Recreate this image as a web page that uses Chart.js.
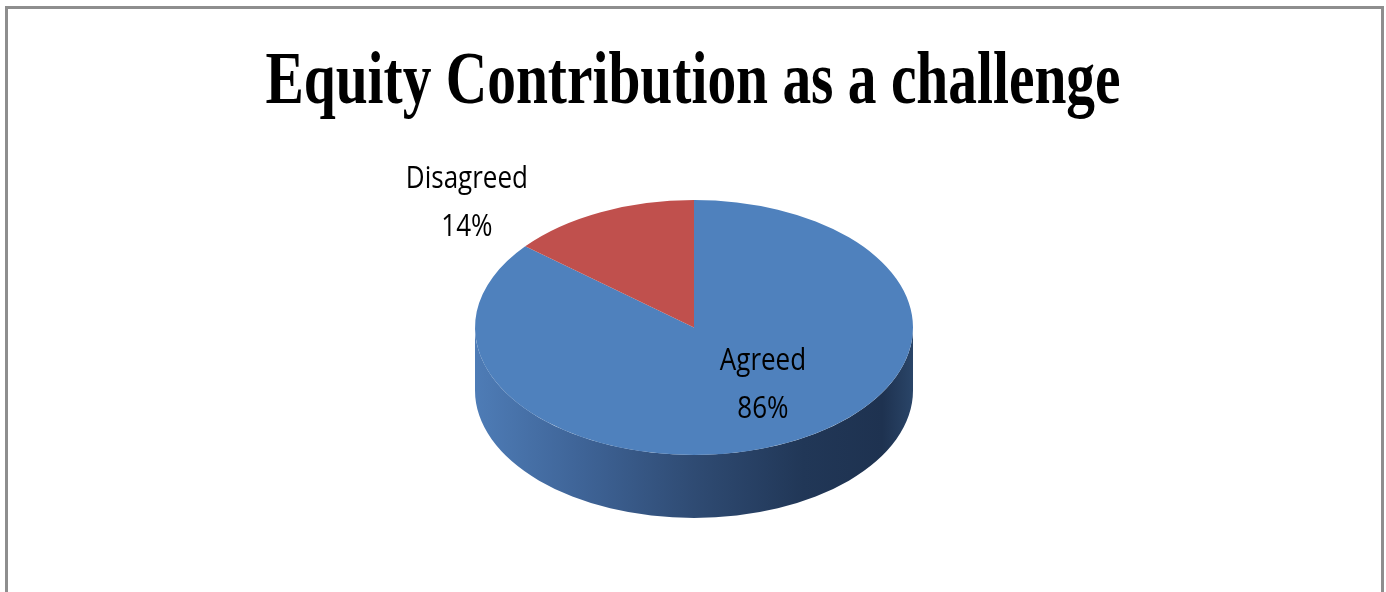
<!DOCTYPE html>
<html>
<head>
<meta charset="utf-8">
<script src="https://cdn.jsdelivr.net/npm/chart.js@4.4.0/dist/chart.umd.min.js"></script>
<style>
  body { margin: 0; background: #fff; overflow: hidden; }
  #wrap { position: relative; width: 1386px; height: 592px; }
  #frame {
    position: absolute; left: 5px; top: 6px; width: 1373px; height: 620px;
    border: 3px solid #8e8e8e; pointer-events: none;
  }
  #title {
    position: absolute; left: 0; top: 41px; width: 1386px; text-align: center;
    font-family: "Liberation Serif", "Times New Roman", serif; font-weight: bold;
    font-size: 74px; line-height: 74px; color: #000;
    transform: scaleX(0.776); transform-origin: 693px 0;
  }
  canvas { position: absolute; left: 0; top: 0; }
</style>
</head>
<body>
<div id="wrap">
  <canvas id="pieChart" width="1386" height="592"></canvas>
  <div id="title">Equity Contribution as a challenge</div>
  <div id="frame"></div>
</div>
<script>
var categories = ['Agreed', 'Disagreed'];
var percentages = [86, 14];
var pctLabels = ['86%', '14%'];

var topColors = ['#4f81bd', '#c0504d'];
// side shading, light on the left to dark on the right
var sideStops = [
  ['#4e7cb6', '#3e6396', '#2f4b73', '#213757', '#1e3250', '#2a4568'],
  ['#b84d4a', '#9a3f3d', '#7f3331', '#662826', '#5e2422', '#6e2c2a']
];

var tilt = 0.582;   // vertical squash of the pie top
var depth = 63;     // thickness of the pie

// label anchors in units of the radius (screen space)
var labelAnchor = [
  { dx: 0.315, dy: 0.253 },
  { dx: -1.037, dy: -0.578 }
];

var pie3d = {
  id: 'pie3d',
  beforeDatasetsDraw: function(chart) {
    var ctx = chart.ctx;
    var meta = chart.getDatasetMeta(0);
    var first = meta.data[0];
    var cx = first.x, cy = first.y, R = first.outerRadius;

    // front side of the cylinder, only for slices facing the viewer
    meta.data.forEach(function(arc, i) {
      [-2 * Math.PI, 0, 2 * Math.PI].forEach(function(off) {
        var a0 = Math.max(arc.startAngle + off, 0);
        var a1 = Math.min(arc.endAngle + off, Math.PI);
        if (a1 <= a0) return;
        var grad = ctx.createLinearGradient(cx - R, 0, cx + R, 0);
        var st = sideStops[i];
        grad.addColorStop(0, st[0]);
        grad.addColorStop(0.25, st[1]);
        grad.addColorStop(0.5, st[2]);
        grad.addColorStop(0.75, st[3]);
        grad.addColorStop(0.93, st[4]);
        grad.addColorStop(1, st[5]);
        ctx.save();
        ctx.beginPath();
        ctx.ellipse(cx, cy, R, R * tilt, 0, a0, a1, false);
        ctx.ellipse(cx, cy + depth, R, R * tilt, 0, a1, a0, true);
        ctx.closePath();
        ctx.fillStyle = grad;
        ctx.fill();
        ctx.restore();
      });
    });

    ctx.save();
    ctx.translate(cx, cy);
    ctx.scale(1, tilt);
    ctx.translate(-cx, -cy);
  },
  afterDatasetsDraw: function(chart) {
    var ctx = chart.ctx;
    ctx.restore();

    var meta = chart.getDatasetMeta(0);
    meta.data.forEach(function(arc, i) {
      var R = arc.outerRadius;
      var x = arc.x + labelAnchor[i].dx * R;
      var y = arc.y + labelAnchor[i].dy * R;
      var lines = [categories[i], pctLabels[i]];
      var base = [-13, 35];
      ctx.save();
      ctx.fillStyle = '#000';
      ctx.font = '26px "Open Sans", "Noto Sans", sans-serif';
      ctx.textAlign = 'center';
      ctx.textBaseline = 'alphabetic';
      lines.forEach(function(t, j) {
        ctx.save();
        ctx.translate(x, y + base[j]);
        ctx.scale(1, 1.2);
        ctx.fillText(t, 0, 0);
        ctx.restore();
      });
      ctx.restore();
    });
  }
};

var ctx = document.getElementById('pieChart').getContext('2d');
var pieChart = new Chart(ctx, {
  type: 'pie',
  data: {
    labels: categories,
    datasets: [{
      data: percentages,
      backgroundColor: topColors,
      borderWidth: 0,
      clip: false
    }]
  },
  options: {
    responsive: false,
    animation: false,
    devicePixelRatio: 1,
    layout: { padding: { left: 475, right: 473, top: 108.5, bottom: 45.5 } },
    plugins: {
      legend: { display: false },
      title: { display: false },
      tooltip: { enabled: false }
    }
  },
  plugins: [pie3d]
});
</script>
</body>
</html>
